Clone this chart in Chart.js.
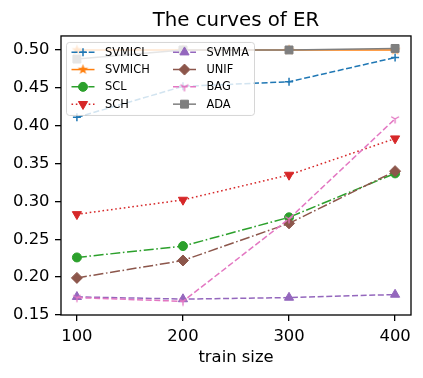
<!DOCTYPE html>
<html>
<head>
<meta charset="utf-8">
<script src="https://cdn.jsdelivr.net/npm/chart.js@4.4.1/dist/chart.umd.min.js"></script>
<style>
html, body { margin: 0; padding: 0; background: #fff; }
#wrap { width: 423px; height: 378px; }
</style>
</head>
<body>
<div id="wrap"><canvas id="erChart" width="423" height="378"></canvas></div>
<script>
// values
var trainSizes = [100, 200, 300, 400];
var yTicks = [0.15, 0.20, 0.25, 0.30, 0.35, 0.40, 0.45, 0.50];

var svmicl = [0.411, 0.452, 0.458, 0.490];
var svmich = [0.500, 0.500, 0.500, 0.500];
var scl    = [0.226, 0.241, 0.279, 0.337];
var sch    = [0.283, 0.302, 0.335, 0.383];
var svmma  = [0.174, 0.171, 0.173, 0.177];
var unif   = [0.199, 0.222, 0.271, 0.340];
var bag    = [0.173, 0.168, 0.277, 0.409];
var ada    = [0.488, 0.500, 0.500, 0.502];

var FONT = "'DejaVu Sans', sans-serif";
Chart.defaults.font.family = FONT;
Chart.defaults.color = '#000';

// small marker glyphs chart.js does not have
function makeStar(color, r) {
	var c = document.createElement('canvas');
	var s = Math.ceil(r * 2 + 2);
	c.width = s; c.height = s;
	var g = c.getContext('2d');
	g.fillStyle = color;
	g.beginPath();
	for (var i = 0; i < 10; i++) {
		var rr = (i % 2 === 0) ? r : r * 0.4;
		var a = -Math.PI / 2 + i * Math.PI / 5;
		var px = s / 2 + rr * Math.cos(a);
		var py = s / 2 + rr * Math.sin(a);
		if (i === 0) g.moveTo(px, py); else g.lineTo(px, py);
	}
	g.closePath();
	g.fill();
	return c;
}

function makeTriDown(color, r) {
	var c = document.createElement('canvas');
	var s = Math.ceil(r * 2 + 3);
	c.width = s; c.height = s;
	var g = c.getContext('2d');
	g.strokeStyle = color;
	g.lineWidth = 1.3;
	var cx = s / 2, cy = s / 2;
	g.beginPath();
	g.moveTo(cx, cy); g.lineTo(cx, cy + r);
	g.moveTo(cx, cy); g.lineTo(cx - r * 0.866, cy - r * 0.5);
	g.moveTo(cx, cy); g.lineTo(cx + r * 0.866, cy - r * 0.5);
	g.stroke();
	return c;
}

var DASHED = [6, 2.6];
var DOTTED = [1.6, 2.7];
var DASHDOT = [10, 2.6, 1.6, 2.6];

function makeSet(label, values, color, dash, style, radius, idx, extra) {
	var ds = {
		label: label,
		data: trainSizes.map(function(x, i) { return { x: x, y: values[i] }; }),
		borderColor: color,
		backgroundColor: color,
		borderWidth: 1.5,
		borderDash: dash,
		pointStyle: style,
		pointRadius: radius,
		pointHoverRadius: radius,
		pointBorderWidth: 1,
		pointBorderColor: color,
		pointBackgroundColor: color,
		fill: false,
		tension: 0,
		order: 10 - idx
	};
	if (extra) {
		for (var k in extra) ds[k] = extra[k];
	}
	return ds;
}

var datasets = [
	makeSet('SVMICL', svmicl, '#1f77b4', DASHED, 'cross', 4, 0, { pointBorderWidth: 1.5 }),
	makeSet('SVMICH', svmich, '#ff7f0e', [], makeStar('#ff7f0e', 5.5), 5, 1),
	makeSet('SCL', scl, '#2ca02c', DASHDOT, 'circle', 4.5, 2),
	makeSet('SCH', sch, '#d62728', DOTTED, 'triangle', 5.3, 3, { pointRotation: 180 }),
	makeSet('SVMMA', svmma, '#9467bd', DASHED, 'triangle', 5.3, 4),
	makeSet('UNIF', unif, '#8c564b', DASHDOT, 'rectRot', 5.5, 5),
	makeSet('BAG', bag, '#e377c2', DASHED, makeTriDown('#e377c2', 4.5), 5, 6),
	makeSet('ADA', ada, '#7f7f7f', [], 'rect', 5.6, 7)
];

function roundRect(ctx, x, y, w, h, r) {
	ctx.beginPath();
	ctx.moveTo(x + r, y);
	ctx.lineTo(x + w - r, y);
	ctx.arcTo(x + w, y, x + w, y + r, r);
	ctx.lineTo(x + w, y + h - r);
	ctx.arcTo(x + w, y + h, x + w - r, y + h, r);
	ctx.lineTo(x + r, y + h);
	ctx.arcTo(x, y + h, x, y + h - r, r);
	ctx.lineTo(x, y + r);
	ctx.arcTo(x, y, x + r, y, r);
	ctx.closePath();
}

// legend drawn inside the plot like matplotlib's (2 columns, upper left)
var boxLegend = {
	id: 'boxLegend',
	afterDatasetsDraw: function(chart) {
		var ctx = chart.ctx;
		var area = chart.chartArea;
		var bx = area.left + 5.5, by = area.top + 6.5;
		var colX = [bx + 5, bx + 106.5];
		var rowY = by + 9.8, step = 17.3;
		ctx.save();
		roundRect(ctx, bx, by, 188, 73, 3);
		ctx.fillStyle = 'rgba(255,255,255,0.8)';
		ctx.fill();
		ctx.strokeStyle = 'rgba(204,204,204,0.8)';
		ctx.lineWidth = 1;
		ctx.stroke();

		chart.data.datasets.forEach(function(ds, i) {
			var x0 = colX[Math.floor(i / 4)];
			var y = rowY + (i % 4) * step;
			ctx.strokeStyle = ds.borderColor;
			ctx.lineWidth = ds.borderWidth;
			ctx.setLineDash(ds.borderDash || []);
			ctx.beginPath();
			ctx.moveTo(x0, y);
			ctx.lineTo(x0 + 23, y);
			ctx.stroke();
			ctx.setLineDash([]);
			ctx.fillStyle = ds.pointBackgroundColor;
			ctx.strokeStyle = ds.pointBorderColor;
			ctx.lineWidth = ds.pointBorderWidth;
			Chart.helpers.drawPoint(ctx, {
				pointStyle: ds.pointStyle,
				rotation: ds.pointRotation || 0,
				radius: ds.pointRadius,
				borderWidth: ds.pointBorderWidth
			}, x0 + 11.5, y);
			ctx.fillStyle = '#000';
			ctx.font = '11.4px ' + FONT;
			ctx.textAlign = 'left';
			ctx.textBaseline = 'middle';
			ctx.fillText(ds.label, x0 + 33.5, y + 0.5);
		});
		ctx.restore();
	},
	afterDraw: function(chart) {
		var ctx = chart.ctx;
		var a = chart.chartArea;
		ctx.save();
		ctx.strokeStyle = '#000';
		ctx.lineWidth = 1.3;
		ctx.strokeRect(a.left, a.top, a.right - a.left, a.bottom - a.top);
		ctx.restore();
	}
};

var ctx = document.getElementById('erChart');
var myChart = new Chart(ctx, {
	type: 'line',
	data: { datasets: datasets },
	plugins: [boxLegend],
	options: {
		responsive: false,
		devicePixelRatio: 1,
		animation: false,
		layout: { padding: { left: 0, right: 12, top: 0, bottom: 0 } },
		plugins: {
			legend: { display: false },
			tooltip: { enabled: false },
			title: {
				display: true,
				text: 'The curves of ER',
				fullSize: false,
				color: '#000',
				font: { family: FONT, size: 19.8, weight: 'normal', lineHeight: 1.2 },
				padding: { top: 9, bottom: 3.2 }
			}
		},
		scales: {
			x: {
				type: 'linear',
				min: 85,
				max: 415,
				afterFit: function(scale) { scale.height = 63; },
				afterBuildTicks: function(scale) {
					scale.ticks = trainSizes.map(function(v) { return { value: v }; });
				},
				grid: { display: true, drawOnChartArea: false, drawTicks: true, tickLength: 6, color: '#000', lineWidth: 1.3 },
				border: { display: false },
				ticks: { color: '#000', font: { size: 16.4 }, padding: 6, maxRotation: 0, autoSkip: false },
				title: {
					display: true,
					text: 'train size',
					color: '#000',
					font: { size: 16.4 },
					padding: { top: 0, bottom: 10 }
				}
			},
			y: {
				min: 0.15,
				max: 0.5185,
				afterFit: function(scale) { scale.width = 61; },
				afterBuildTicks: function(scale) {
					scale.ticks = yTicks.map(function(v) { return { value: v }; });
				},
				grid: { display: true, drawOnChartArea: false, drawTicks: true, tickLength: 6, color: '#000', lineWidth: 1.3 },
				border: { display: false },
				ticks: {
					color: '#000',
					font: { size: 16.4 },
					padding: 5.5,
					autoSkip: false,
					callback: function(v) { return Number(v).toFixed(2); }
				}
			}
		}
	}
});
</script>
</body>
</html>
